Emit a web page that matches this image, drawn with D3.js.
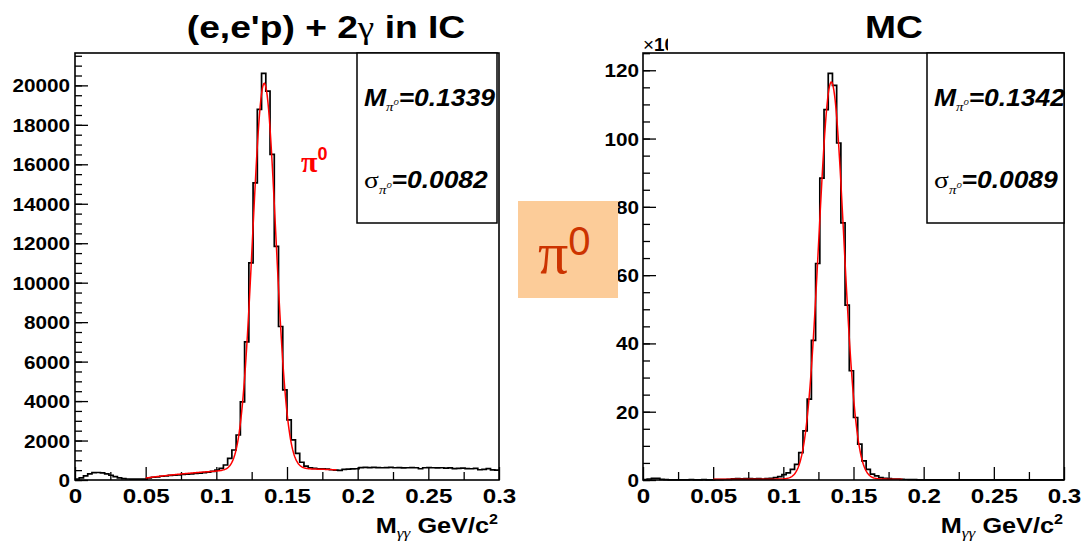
<!DOCTYPE html>
<html>
<head>
<meta charset="utf-8">
<script src="https://cdn.jsdelivr.net/npm/d3@7"></script>
<style>
  body { margin: 0; background: #ffffff; }
  svg { display: block; }
</style>
</head>
<body>
<div id="mid"></div>
<script>
// M(gamma gamma) spectra, 100 bins of 0.003 GeV/c^2 from 0 to 0.3
var binWidth = 0.003;

// (e,e'p) + 2 gamma in IC, counts per bin
var dataCounts = [
  40, 110, 210, 310, 370, 380, 360, 310, 240, 170,
  110, 70, 50, 40, 40, 40, 45, 110, 140, 160,
  190, 210, 230, 250, 260, 280, 300, 310, 330, 350,
  370, 400, 440, 500, 590, 760, 1100, 1520, 2280, 3960,
  7000, 11000, 15060, 18780, 20610, 19710, 16500, 11840, 7780, 4570,
  3050, 2030, 1350, 900, 700, 620, 590, 570, 560, 550,
  520, 500, 490, 540, 550, 560, 570, 630, 640, 630,
  640, 630, 620, 630, 640, 620, 630, 610, 620, 630,
  620, 570, 620, 630, 620, 610, 620, 600, 610, 580,
  590, 600, 580, 570, 590, 520, 540, 580, 510, 500
];

// MC, counts per bin in units of 10^3
var mcCounts = [
  0.1, 0.3, 0.5, 0.5, 0.2, 0.1, 0.05, 0.05, 0.05, 0.05,
  0.05, 0.1, 0.05, 0.05, 0.1, 0.05, 0.05, 0.1, 0.1, 0.15,
  0.2, 0.35, 0.4, 0.35, 0.4, 0.4, 0.35, 0.4, 0.3, 0.4,
  0.5, 0.7, 1.0, 1.6, 2.1, 3.1, 4.6, 8.0, 14.4, 23.7,
  40.9, 63.4, 88.4, 108.5, 119.1, 115.6, 98.7, 75.3, 51.2, 32.0,
  18.3, 10.5, 5.6, 3.1, 1.7, 1.2, 0.7, 0.5, 0.4, 0.3,
  0.3, 0.2, 0.15, 0.1, 0.1, 0.05, 0.05, 0.05, 0.05, 0.05,
  0.05, 0.05, 0.05, 0.05, 0.05, 0.05, 0.05, 0.05, 0.05, 0.05,
  0.05, 0.05, 0.05, 0.05, 0.05, 0.05, 0.05, 0.05, 0.05, 0.05,
  0.05, 0.05, 0.05, 0.05, 0.05, 0.05, 0.05, 0.05, 0.05, 0.05
];

// gaussian + pol2 fits, range 0.05 - 0.185
var dataFitMean = 0.1339, dataFitSigma = 0.0082, dataFitAmp = 19550;
var dataFitBg = [-480, 13920, -46150];
var mcFitMean = 0.1342, mcFitSigma = 0.0089, mcFitAmp = 116.3;
var mcFitBg = [0.25, 0, 0];
var fitRange = [0.05, 0.185];

var xTicks = [0, 0.05, 0.1, 0.15, 0.2, 0.25, 0.3];
var xMinorTicks = [0.025, 0.075, 0.125, 0.175, 0.225, 0.275];
var dataYTicks = [0, 2000, 4000, 6000, 8000, 10000, 12000, 14000, 16000, 18000, 20000];
var mcYTicks = [0, 20, 40, 60, 80, 100, 120];

var SANS = "'Liberation Sans', Arial, Helvetica, sans-serif";
var SERIF = "'Liberation Serif', 'Times New Roman', serif";
var SX = 1.15;   // text is drawn a bit wide

var W = 1086, H = 543;
var svg = d3.select("#mid").append("svg")
  .attr("width", W).attr("height", H)
  .attr("font-family", SANS);

function richText(g, x, y, anchor, size, parts, sx) {
  var t = g.append("text")
    .attr("transform", "translate(" + x + "," + y + ") scale(" + (sx || SX) + ",1)")
    .attr("text-anchor", anchor)
    .attr("font-size", size)
    .attr("font-weight", "bold");
  parts.forEach(function(p) {
    var s = t.append("tspan").text(p.t);
    if (p.w) s.attr("font-weight", p.w);
    if (p.i) s.attr("font-style", "italic");
    if (p.f) s.attr("font-family", p.f);
    if (p.s) s.attr("font-size", p.s);
    if (p.dy) s.attr("dy", p.dy);
    if (p.c) s.attr("fill", p.c);
  });
  return t;
}

function fitValue(x, mean, sigma, amp, bg) {
  var z = (x - mean) / sigma;
  return amp * Math.exp(-0.5 * z * z) + bg[0] + bg[1] * x + bg[2] * x * x;
}

function drawPanel(p) {
  var g = svg.append("g");
  var x = d3.scaleLinear().domain([0, 0.3]).range([p.x0, p.x1]);
  var y = d3.scaleLinear().domain([0, 1.05 * d3.max(p.counts)]).range([p.yb, p.yt]);

  // y axis, ticks pointing into the frame
  var yMinor = d3.range(0, y.domain()[1], p.yMinorStep);
  g.append("g").attr("transform", "translate(" + p.x0 + ",0)")
    .call(d3.axisLeft(y).tickValues(yMinor).tickSizeInner(-7).tickSizeOuter(0).tickFormat(""))
    .call(function(a) { a.select(".domain").remove(); a.selectAll("line").attr("stroke", "#000").attr("stroke-width", 1.3); });
  g.append("g").attr("transform", "translate(" + p.x0 + ",0)")
    .call(d3.axisLeft(y).tickValues(p.yTicks).tickSizeInner(-13).tickSizeOuter(0).tickPadding(5).tickFormat(d3.format("d")))
    .call(function(a) {
      a.select(".domain").remove();
      a.selectAll("line").attr("stroke", "#000").attr("stroke-width", 1.3);
      a.selectAll("text")
        .attr("font-family", SANS).attr("font-size", 18).attr("font-weight", "bold")
        .attr("fill", "#000").attr("dy", "0.36em")
        .attr("x", -p.labelGap / SX)
        .attr("transform", "scale(" + SX + ",1)");
    });

  // x axis
  g.append("g").attr("transform", "translate(0," + p.yb + ")")
    .call(d3.axisBottom(x).tickValues(xMinorTicks).tickSizeInner(-8).tickSizeOuter(0).tickFormat(""))
    .call(function(a) { a.select(".domain").remove(); a.selectAll("line").attr("stroke", "#000").attr("stroke-width", 1.3); });
  g.append("g").attr("transform", "translate(0," + p.yb + ")")
    .call(d3.axisBottom(x).tickValues(xTicks).tickSizeInner(-13).tickSizeOuter(0).tickPadding(6).tickFormat(function(d) { return String(d); }))
    .call(function(a) {
      a.select(".domain").remove();
      a.selectAll("line").attr("stroke", "#000").attr("stroke-width", 1.3);
      a.selectAll("text")
        .attr("font-family", SANS).attr("font-size", 21).attr("font-weight", "bold")
        .attr("fill", "#000").attr("y", 0).attr("dy", 23)
        .attr("transform", "scale(" + SX + ",1)");
    });

  // histogram
  var pts = p.counts.map(function(c, i) { return [i * binWidth, c]; });
  pts.push([p.counts.length * binWidth, p.counts[p.counts.length - 1]]);
  g.append("path")
    .attr("d", d3.line().x(function(d) { return x(d[0]); }).y(function(d) { return y(d[1]); }).curve(d3.curveStepAfter)(pts))
    .attr("fill", "none").attr("stroke", "#000").attr("stroke-width", 1.7);

  // fit
  var fx = d3.range(fitRange[0], fitRange[1] + 1e-9, 0.0005);
  g.append("path")
    .attr("d", d3.line()
      .x(function(d) { return x(d); })
      .y(function(d) { return y(fitValue(d, p.mean, p.sigma, p.amp, p.bg)); })(fx))
    .attr("fill", "none").attr("stroke", "#ff0000").attr("stroke-width", 1.5);

  // frame
  g.append("rect")
    .attr("x", p.x0).attr("y", p.yt).attr("width", p.x1 - p.x0).attr("height", p.yb - p.yt)
    .attr("fill", "none").attr("stroke", "#000").attr("stroke-width", 1.6);

  // stats box
  g.append("rect")
    .attr("x", p.boxX).attr("y", p.yt).attr("width", p.boxX2 - p.boxX).attr("height", p.boxY2 - p.yt)
    .attr("fill", "#fff").attr("stroke", "#000").attr("stroke-width", 1.5);
  richText(g, p.boxX + 7, p.yt + 53, "start", 23, [
    { t: "M", i: 1 },
    { t: "\u03c0", f: SERIF, s: 13, dy: 5, i: 1, w: "normal" },
    { t: "0", s: 8, dy: -6, i: 1, w: "normal" },
    { t: p.statM, i: 1, dy: 1 }
  ]);
  richText(g, p.boxX + 7, p.yt + 135, "start", 23, [
    { t: "\u03c3", f: SERIF, s: 24, w: "normal" },
    { t: "\u03c0", f: SERIF, s: 13, dy: 6, i: 1, w: "normal" },
    { t: "0", s: 8, dy: -6, i: 1, w: "normal" },
    { t: p.statS, i: 1 }
  ]);

  // axis title
  richText(g, p.x1 - 1, 533, "end", 22, [
    { t: "M" },
    { t: "\u03b3\u03b3", f: SERIF, s: 15, dy: 5, i: 1, w: "normal" },
    { t: " GeV/c", dy: -5 },
    { t: "2", s: 14, dy: -9 }
  ]);

  // title
  richText(g, p.titleX, 38, "middle", 31, p.title, 1.2);
  return g;
}

drawPanel({
  x0: 75, x1: 499, yt: 53, yb: 480, labelGap: 5,
  counts: dataCounts, yTicks: dataYTicks, yMinorStep: 500,
  mean: dataFitMean, sigma: dataFitSigma, amp: dataFitAmp, bg: dataFitBg,
  boxX: 357, boxX2: 497, boxY2: 223,
  statM: "=0.1339", statS: "=0.0082",
  titleX: 326,
  title: [{ t: "(e,e'p) + 2" }, { t: "\u03b3", f: SERIF, w: "normal" }, { t: " in IC" }]
});

drawPanel({
  x0: 643, x1: 1064, yt: 53, yb: 480, labelGap: 4,
  counts: mcCounts, yTicks: mcYTicks, yMinorStep: 5,
  mean: mcFitMean, sigma: mcFitSigma, amp: mcFitAmp, bg: mcFitBg,
  boxX: 927, boxX2: 1064, boxY2: 223,
  statM: "=0.1342", statS: "=0.0089",
  titleX: 894,
  title: [{ t: "MC" }]
});

// exponent label of the MC axis, cut off at the pad edge
svg.append("clipPath").attr("id", "expclip")
  .append("rect").attr("x", 640).attr("y", 30).attr("width", 28).attr("height", 25);
var ex = svg.append("g").attr("clip-path", "url(#expclip)");
richText(ex, 643, 51, "start", 18, [{ t: "\u00d7", w: "normal" }, { t: "10" }, { t: "3", s: 11, dy: -7 }], 1.05);

// red pi0 label in the data panel
var lab = svg.append("text").attr("x", 301).attr("y", 172).attr("fill", "#ff0000").attr("font-weight", "bold");
lab.append("tspan").text("\u03c0").attr("font-family", SERIF).attr("font-size", 30);
lab.append("tspan").text("0").attr("font-family", SANS).attr("font-size", 18).attr("dy", -12);

// pi0 tag between the panels
svg.append("rect").attr("x", 518).attr("y", 201).attr("width", 100).attr("height", 97).attr("fill", "#fccc99");
var tag = svg.append("text").attr("x", 538).attr("y", 273).attr("fill", "#cc3300");
tag.append("tspan").text("\u03c0").attr("font-family", SERIF).attr("font-size", 60);
tag.append("tspan").text("0").attr("font-family", SANS).attr("font-size", 40).attr("dy", -18);
</script>
</body>
</html>
